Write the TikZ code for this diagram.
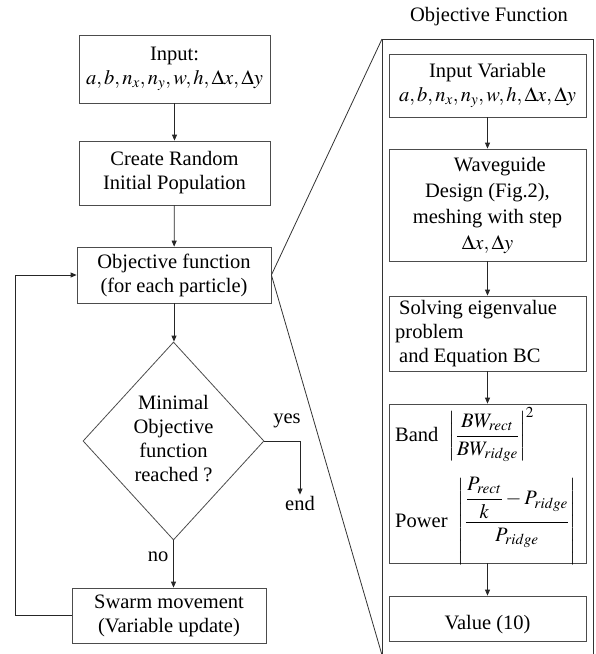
\documentclass[tikz,border=0pt]{standalone}
\usepackage{amsmath}
\usepackage{mathptmx}
\usepackage[no-math]{fontspec}
\setmainfont{Liberation Serif}
\usetikzlibrary{shapes.geometric,arrows.meta}
\tikzset{
  box/.style={draw=black!70, line width=0.8pt, rectangle, inner sep=0pt, align=center},
  dia/.style={draw=black!70, line width=0.8pt, diamond, inner sep=0pt, minimum width=181pt, minimum height=198pt},
  arr/.style={draw=black!85, line width=0.8pt, -{Triangle[length=6pt,width=5pt]}},
  ln/.style={draw=black!80, line width=0.8pt},
  lbl/.style={inner sep=1pt}
}
\begin{document}
\begin{tikzpicture}[x=1pt,y=-1pt,font=\fontsize{20.5}{24}\selectfont]
\useasboundingbox (0,0) rectangle (596,654);
% left column
\node[box, minimum width=191pt, minimum height=68pt] (in) at (174.5,69) {Input:\\$a,b,n_x,n_y,w,h,\Delta x,\Delta y$};
\node[box, minimum width=191pt, minimum height=64pt] (create) at (174.5,173) {Create Random\\Initial Population};
\node[box, minimum width=194pt, minimum height=56pt] (obj) at (174,275) {Objective function\\(for each particle)};
\node[dia] (dec) at (173.5,441) {};
\node[align=center, inner sep=0pt] (dectext) at (173.5,439) {Minimal\\Objective\\function\\reached ?};
\node[box, minimum width=194pt, minimum height=55pt] (swarm) at (169,615.5) {Swarm movement\\(Variable update)};
\node[lbl] (end) at (300,503) {end};
\node[lbl] (yes) at (287,421) {yes};
\node[lbl] (no) at (158,557) {no};
\draw[arr] (in) -- (create);
\draw[arr] (create) -- (obj);
\draw[arr] (obj.south) -- (obj.south |- dec.north);
\draw[arr] (dec.south) -- (dec.south |- swarm.north);
\draw[arr] (dec.east) -| (end.north);
\draw[arr] (swarm.west) -- ++(-56,0) |- (obj.west);
% right column
\node[inner sep=0pt] (title) at (489,17) {Objective Function};
\coordinate (ftl) at (382,39);
\coordinate (fbl) at (382,655);
\coordinate (ftr) at (593,39);
\coordinate (fbr) at (593,655);
\draw[ln] (fbl) -- (ftl) -- (ftr) -- (fbr);
\draw[ln] (obj.east) -- (ftl);
\draw[ln] (obj.east) -- (fbl);
\node[box, minimum width=197pt, minimum height=63pt] (iv) at (487.5,85.5) {Input Variable\\$a,b,n_x,n_y,w,h,\Delta x,\Delta y$};
\node[box, minimum width=197pt, minimum height=112pt] (wg) at (487.5,205) {\hspace*{1.2em}Waveguide\\[2pt]Design (Fig.2),\\[2pt]meshing with step\\[2pt]$\Delta x,\Delta y$};
\node[box, minimum width=197pt, minimum height=75pt] (sol) at (487.5,333.5) {};
\node[align=left, inner sep=0pt, anchor=west] (soltext) at (395,333.5) {\hspace*{4pt}Solving eigenvalue\\problem\\\hspace*{4pt}and Equation BC};
\node[box, minimum width=197pt, minimum height=159pt] (bp) at (487.5,483.5) {};
\node[align=left, inner sep=0pt, anchor=west] (bptext) at (395,486) {Band \ $\left|\dfrac{BW_{rect}}{BW_{ridge}}\right|^2$\\[15pt]
Power \ $\left|\dfrac{\dfrac{P_{rect}}{k}-P_{ridge}}{P_{ridge}}\right|$};
\node[box, minimum width=197pt, minimum height=45pt] (val) at (487.5,618.5) {};
\node[inner sep=0pt] (valtext) at (487.5,625) {Value (10)};
\draw[arr] (iv) -- (wg);
\draw[arr] (wg) -- (sol);
\draw[arr] (sol) -- (bp);
\draw[arr] (bp) -- (val);
\end{tikzpicture}
\end{document}
